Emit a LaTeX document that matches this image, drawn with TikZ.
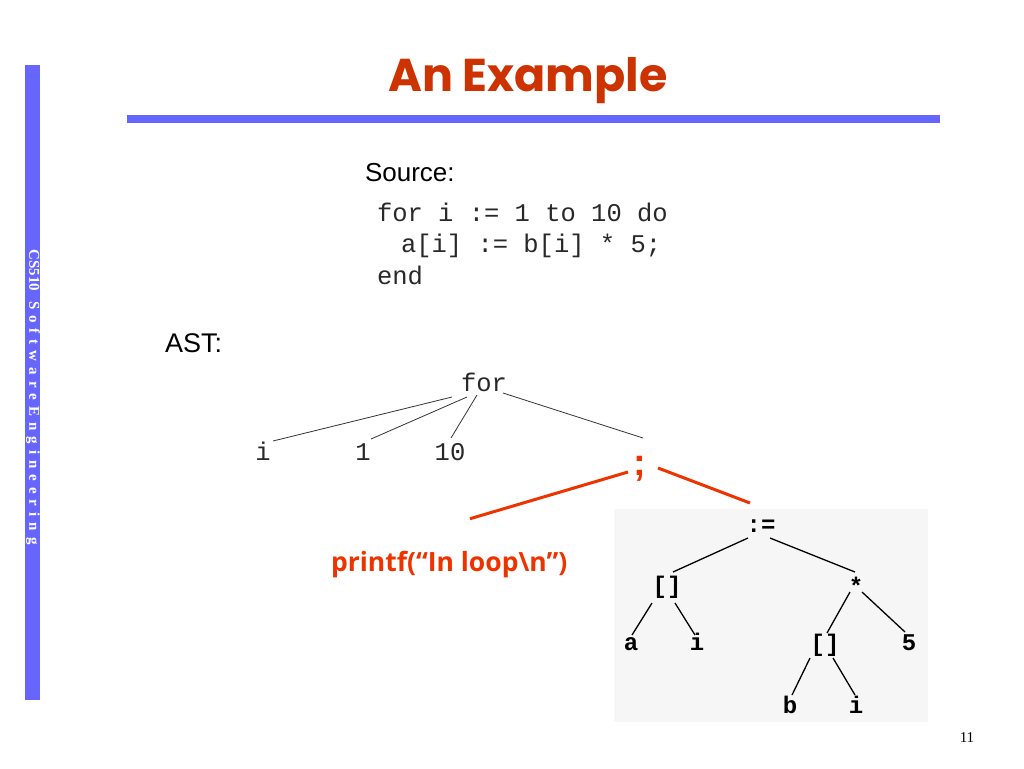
\documentclass[tikz,border=0pt]{standalone}
\usepackage{fontspec}
\usetikzlibrary{calc}
\setmainfont{Liberation Serif}
\newfontfamily\arialf{Liberation Sans}
\newfontfamily\monof{Liberation Mono}
\newfontfamily\titlef{Poppins}
\newfontfamily\printff{Open Sans}
\newfontfamily\sidetight{Liberation Serif}
\newfontfamily\sidespaced{Liberation Serif}[LetterSpace=40]
\definecolor{barblue}{RGB}{102,102,255}
\definecolor{titlered}{RGB}{204,51,0}
\definecolor{hired}{RGB}{238,51,0}
\definecolor{codegray}{RGB}{40,40,40}
\definecolor{bggray}{RGB}{246,246,246}
\begin{document}
\begin{tikzpicture}[x=1pt,y=-1pt,
  every node/.style={inner sep=0pt,outer sep=0pt},
  code/.style={anchor=base west,text=codegray,font=\monof\fontsize{25.5}{25.5}\selectfont},
  toptree/.style={anchor=base,text=codegray,font=\monof\fontsize{25.5}{25.5}\selectfont},
  bottree/.style={anchor=base,text=black,font=\monof\bfseries\fontsize{24}{24}\selectfont},
  thinedge/.style={draw=black!80,line width=0.8pt},
  botedge/.style={draw=black,line width=1.3pt},
  rededge/.style={draw=hired,line width=3pt}]
\useasboundingbox (0,0) rectangle (1024,768);
% side bar
\fill[barblue] (25,65) rectangle (40,700);
\node[rotate=-90,text=white,font=\bfseries\fontsize{15}{15}\selectfont] (side) at (33,397)
  {{\sidetight CS510}\hspace{10pt}{\sidespaced Software\hspace{6pt}Engineering}};
% title and rule
\node[anchor=base,text=titlered,font=\titlef\bfseries\fontsize{46}{46}\selectfont] (title) at (528,91) {An Example};
\fill[barblue] (127,115) rectangle (940,123);
% source
\node[anchor=base west,font=\arialf\fontsize{26}{26}\selectfont] (src) at (365,181) {Source:};
\node[code] (c1) at (377,221) {for i := 1 to 10 do};
\node[code] (c2) at (401,252) {a[i] := b[i] * 5;};
\node[code] (c3) at (377,284) {end};
% AST
\node[anchor=base west,font=\arialf\fontsize{27}{27}\selectfont] (ast) at (165,352) {AST:};
\node[toptree] (for) at (484,391) {for};
\node[toptree] (ti) at (263,460) {i};
\node[toptree] (tone) at (363,460) {1};
\node[toptree] (tten) at (450,460) {10};
\node[text=hired,font=\arialf\bfseries\fontsize{38}{38}\selectfont] (semi) at (640,469) {;};
\draw[thinedge] ($(for.base)+(-32,6)$) -- ($(ti.base)+(10,-19)$);
\draw[thinedge] ($(for.base)+(-17,6)$) -- ($(tone.base)+(8,-21)$);
\draw[thinedge] ($(for.base)+(-7,4)$) -- ($(tten.base)+(1,-22)$);
\draw[thinedge] ($(for.base)+(19,2)$) -- ($(semi)+(3,-31)$);
% printf
\node[anchor=base west,text=hired,font=\printff\bfseries\fontsize{26.5}{26.5}\selectfont] (pf) at (331,571) {printf(“In loop\textbackslash n”)};
% lower tree
\fill[bggray] (614,509) rectangle (928,722);
\node[bottree] (asg) at (761,532) {:=};
\node[bottree] (lb) at (667,593) {[]};
\node[bottree] (mul) at (856,594) {*};
\node[bottree] (va) at (631,650) {a};
\node[bottree] (vi) at (697,650) {i};
\node[bottree] (rb) at (825,651) {[]};
\node[bottree] (v5) at (909,650) {5};
\node[bottree] (vb) at (790,713) {b};
\node[bottree] (vi2) at (856,713) {i};
\draw[rededge] ($(semi)+(-12,3)$) -- ($(pf.north west)+(139,-32)$);
\draw[rededge] ($(semi)+(18,-1)$) -- ($(asg.base)+(-11,-29)$);
\draw[botedge] ($(asg.base)+(-13,6)$) -- ($(lb.base)+(6,-21)$);
\draw[botedge] ($(asg.base)+(9,6)$) -- ($(mul.base)+(-1,-22)$);
\draw[botedge] ($(lb.base)+(-15,10)$) -- ($(va.base)+(1,-15)$);
\draw[botedge] ($(lb.base)+(8,10)$) -- ($(vi.base)+(-2,-15)$);
\draw[botedge] ($(mul.base)+(-6,-2)$) -- ($(rb.base)+(2,-18)$);
\draw[botedge] ($(mul.base)+(6,-2)$) -- ($(v5.base)+(-4,-18)$);
\draw[botedge] ($(rb.base)+(-15,7)$) -- ($(vb.base)+(2,-18)$);
\draw[botedge] ($(rb.base)+(8,7)$) -- ($(vi2.base)+(-1,-18)$);
% page number
\node[anchor=base,font=\fontsize{15}{15}\selectfont] (pg) at (967,742) {11};
\end{tikzpicture}
\end{document}
